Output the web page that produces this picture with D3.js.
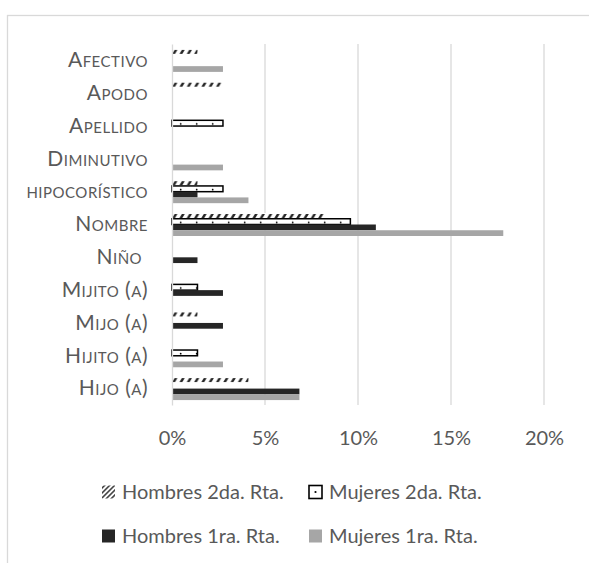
<!DOCTYPE html>
<html>
<head>
<meta charset="utf-8">
<script src="https://cdn.jsdelivr.net/npm/d3@7"></script>
<style>
  body { margin: 0; background: #fff; }
  text { font-family: Lato, "Open Sans", sans-serif; fill: #595959; }
</style>
</head>
<body>
<figure id="chart" style="margin:0"></figure>
<script>
const categories = ['Afectivo', 'Apodo', 'Apellido', 'Diminutivo', 'hipocorístico', 'Nombre',
  'Niño ', 'Mijito (a)', 'Mijo (a)', 'Hijito (a)', 'Hijo (a)'];
const series = ['Hombres 2da. Rta.', 'Mujeres 2da. Rta.', 'Hombres 1ra. Rta.', 'Mujeres 1ra. Rta.'];
// percentages
const hombres2da = [1.37, 2.74, 0, 0, 1.37, 8.22, 0, 0, 1.37, 0, 4.11];
const mujeres2da = [0, 0, 2.74, 0, 2.74, 9.59, 0, 1.37, 0, 1.37, 0];
const hombres1ra = [0, 0, 0, 0, 1.37, 10.96, 1.37, 2.74, 2.74, 0, 6.85];
const mujeres1ra = [2.74, 0, 0, 2.74, 4.11, 17.81, 0, 0, 0, 2.74, 6.85];
const xTicks = [0, 5, 10, 15, 20];

const values = [hombres2da, mujeres2da, hombres1ra, mujeres1ra];
const fills = ['url(#hatchBar)', 'url(#dotBar)', '#262626', '#a6a6a6'];

const width = 589;
const height = 563;

const svg = d3.select('figure#chart')
  .append('svg')
  .attr('width', width)
  .attr('height', height);

// chart area border (runs off the right/bottom edges)
svg.append('rect')
  .attr('x', 7.5).attr('y', 15.5)
  .attr('width', 700).attr('height', 700)
  .attr('fill', 'none')
  .attr('stroke', '#d9d9d9')
  .attr('stroke-width', 1.3);

const x = d3.scaleLinear().domain([0, 20]).range([172, 544]);
const y = d3.scaleBand().domain(categories).range([44, 405]).paddingInner(0.3).paddingOuter(0.15);
const ySub = d3.scaleBand().domain(series).range([0, y.bandwidth()]);
const bh = ySub.bandwidth();

const defs = svg.append('defs');

const hatch = defs.append('pattern')
  .attr('id', 'hatchBar')
  .attr('patternUnits', 'userSpaceOnUse')
  .attr('x', x(0)).attr('y', y(categories[0]) + ySub(series[0]))
  .attr('width', 7.3).attr('height', y.step());
hatch.append('rect').attr('width', 7.3).attr('height', y.step()).attr('fill', '#fff');
hatch.append('path')
  .attr('d', `M0.2,${bh - 0.8} L2.6,0.9 L5.4,0.9 L3.0,${bh - 0.8} Z`)
  .attr('fill', '#262626');

const dots = defs.append('pattern')
  .attr('id', 'dotBar')
  .attr('patternUnits', 'userSpaceOnUse')
  .attr('x', x(0)).attr('y', y(categories[0]) + ySub(series[1]))
  .attr('width', 16).attr('height', y.step());
dots.append('rect').attr('width', 16).attr('height', y.step()).attr('fill', '#fff');
dots.append('circle').attr('cx', 8.7).attr('cy', bh / 2 + 0.8).attr('r', 0.9).attr('fill', '#000');

const hatchIcon = defs.append('pattern')
  .attr('id', 'hatchIcon')
  .attr('patternUnits', 'userSpaceOnUse')
  .attr('width', 3.5).attr('height', 3.5)
  .attr('patternTransform', 'rotate(45)');
hatchIcon.append('rect').attr('width', 3.5).attr('height', 3.5).attr('fill', '#fff');
hatchIcon.append('rect').attr('width', 1.4).attr('height', 3.5).attr('fill', '#262626');

// gridlines
svg.append('g')
  .selectAll('line')
  .data(xTicks.slice(1))
  .enter()
  .append('line')
  .attr('x1', d => x(d)).attr('x2', d => x(d))
  .attr('y1', 44).attr('y2', 405)
  .attr('stroke', '#d9d9d9')
  .attr('stroke-width', 1.3);

// bars
const rows = [];
categories.forEach((c, i) => {
  series.forEach((s, j) => {
    if (values[j][i] > 0) rows.push({ c, s, j, v: values[j][i] });
  });
});

svg.append('g')
  .selectAll('rect')
  .data(rows)
  .enter()
  .append('rect')
  .attr('x', x(0))
  .attr('y', d => y(d.c) + ySub(d.s))
  .attr('width', d => x(d.v) - x(0))
  .attr('height', bh)
  .attr('fill', d => fills[d.j])
  .attr('stroke', d => d.j === 1 ? '#000' : 'none')
  .attr('stroke-width', 1.5);

// category axis
const yAxis = svg.append('g')
  .attr('transform', `translate(${x(0)},0)`)
  .call(d3.axisLeft(y).tickSize(0).tickSizeOuter(0).tickPadding(24));
yAxis.select('.domain').attr('stroke', '#d9d9d9').attr('stroke-width', 1.3);
yAxis.selectAll('text')
  .attr('fill', '#595959')
  .style('font-family', 'Lato, sans-serif')
  .style('font-size', '21px')
  .style('letter-spacing', '0.5px')
  .style('font-variant', 'small-caps')
  .style('white-space', 'pre');

// value axis
const xAxis = svg.append('g')
  .attr('transform', 'translate(0,405)')
  .call(d3.axisBottom(x).tickValues(xTicks).tickFormat(d => d + '%').tickSize(0).tickPadding(26));
xAxis.select('.domain').remove();
xAxis.selectAll('text')
  .attr('fill', '#595959')
  .style('font-family', 'Lato, sans-serif')
  .style('font-size', '20px');

// legend
const legendPos = [
  { x: 102, y: 492 }, { x: 309, y: 492 },
  { x: 102, y: 536 }, { x: 309, y: 536 }
];
const iconFills = ['url(#hatchIcon)', '#fff', '#262626', '#a6a6a6'];

const legend = svg.append('g')
  .selectAll('g')
  .data(series)
  .enter()
  .append('g')
  .attr('transform', (d, i) => `translate(${legendPos[i].x},${legendPos[i].y})`);

legend.append('rect')
  .attr('x', 0).attr('y', -6.5)
  .attr('width', 13).attr('height', 13)
  .attr('fill', (d, i) => iconFills[i])
  .attr('stroke', (d, i) => i === 1 ? '#000' : 'none')
  .attr('stroke-width', 1.6);

legend.filter((d, i) => i === 1)
  .append('circle')
  .attr('cx', 6.5).attr('cy', 0).attr('r', 1.1).attr('fill', '#000');

legend.append('text')
  .attr('x', 20)
  .attr('y', 7)
  .style('font-size', '20px')
  .text(d => d);
</script>
</body>
</html>
